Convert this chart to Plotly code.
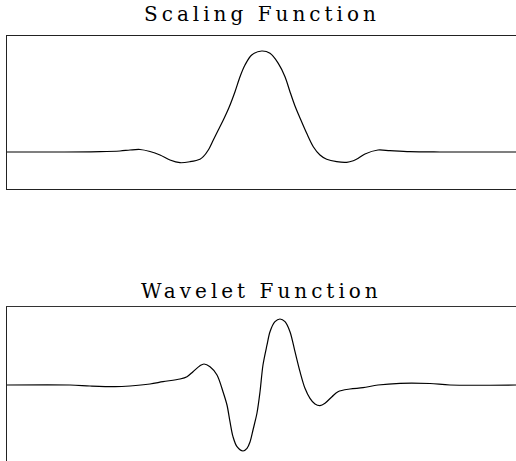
import plotly.graph_objects as go

# Scaling function samples (t, value)
scaling_t = [0, 1.767, 3.1, 3.767, 4.1, 4.433, 4.767, 5.1, 5.433, 5.767, 6.1, 6.433, 6.543,
             6.71, 6.877, 7.043, 7.21, 7.4, 7.6, 7.767, 7.933, 8.157, 8.49, 8.767, 9.043,
             9.267, 9.433, 9.6, 9.767, 9.99, 10.21, 10.433, 10.657, 10.99, 11.323, 11.543,
             11.71, 11.933, 12.367, 12.767, 13.433, 14.433, 16.967]
scaling_v = [0, 0, 0.003, 0.01, 0.02, 0.025, 0.005, -0.03, -0.08, -0.107, -0.097, -0.072, -0.047,
             0.02, 0.12, 0.22, 0.32, 0.445, 0.603, 0.753, 0.87, 0.97, 1.01, 0.987, 0.887,
             0.753, 0.603, 0.46, 0.34, 0.187, 0.053, -0.03, -0.073, -0.097, -0.103, -0.087,
             -0.063, -0.02, 0.02, 0.013, 0.003, 0, 0]

# Wavelet function samples (t, value)
wavelet_t = [0, 2.1, 2.767, 3.6, 4.1, 4.767, 5.2, 5.767, 6.0, 6.2, 6.433, 6.567, 6.767, 7.0,
             7.2, 7.333, 7.433, 7.533, 7.667, 7.867, 8.0, 8.1, 8.2, 8.333, 8.433, 8.533, 8.667,
             8.767, 8.933, 9.1, 9.267, 9.433, 9.6, 9.767, 9.933, 10.1, 10.267, 10.433, 10.6,
             10.833, 11.033, 11.433, 11.867, 12.367, 13.1, 14.1, 14.767, 16.967]
wavelet_v = [0, 0, -0.01, -0.017, -0.01, 0.01, 0.033, 0.06, 0.083, 0.133, 0.193, 0.21, 0.183, 0.1,
             -0.067, -0.2, -0.367, -0.517, -0.617, -0.66, -0.633, -0.57, -0.45, -0.28, -0.07, 0.2, 0.4,
             0.533, 0.633, 0.66, 0.633, 0.533, 0.333, 0.133, -0.033, -0.133, -0.19, -0.207, -0.183,
             -0.117, -0.067, -0.04, -0.027, 0, 0.017, 0.015, 0, 0]

titles = ["Scaling Function", "Wavelet Function"]

fig = go.Figure()
fig.add_trace(go.Scatter(x=scaling_t, y=scaling_v, mode="lines",
                         line=dict(color="black", width=1.2, shape="spline", smoothing=0.9),
                         xaxis="x", yaxis="y", hoverinfo="skip"))
fig.add_trace(go.Scatter(x=wavelet_t, y=wavelet_v, mode="lines",
                         line=dict(color="black", width=1.2, shape="spline", smoothing=0.9),
                         xaxis="x2", yaxis="y2", hoverinfo="skip"))

axis_common = dict(showgrid=False, zeroline=False, showticklabels=False, ticks="")
title_font = dict(family="DejaVu Serif", size=20, color="black")
fig.update_layout(
    width=516, height=461,
    margin=dict(l=7, r=0, t=36, b=0),
    paper_bgcolor="white", plot_bgcolor="white",
    showlegend=False,
    xaxis=dict(domain=[0, 1], range=[0, 16.967], showline=True, mirror=True,
               linecolor="#222", linewidth=1, anchor="y", **axis_common),
    yaxis=dict(domain=[0.64, 1], range=[-0.37, 1.16], showline=True, mirror=False,
               linecolor="#222", linewidth=1, anchor="x", **axis_common),
    xaxis2=dict(domain=[0, 1], range=[0, 16.967], showline=True, side="top",
                linecolor="#333", linewidth=1, anchor="y2", **axis_common),
    yaxis2=dict(domain=[0, 0.3624], range=[-0.76, 0.78], showline=True,
                linecolor="#222", linewidth=1, anchor="x2", **axis_common),
    annotations=[
        dict(text='<span style="letter-spacing:4px">' + titles[0] + '</span>',
             xref="paper", yref="paper", x=0.5, y=1.0518,
             xanchor="center", yanchor="middle", showarrow=False, font=title_font),
        dict(text='<span style="letter-spacing:4px">' + titles[1] + '</span>',
             xref="paper", yref="paper", x=0.5, y=0.40,
             xanchor="center", yanchor="middle", showarrow=False, font=title_font),
    ],
)

fig.write_html("out.html", config={"displayModeBar": False},
               post_script="document.body.style.margin='0';document.body.style.overflow='hidden';")
